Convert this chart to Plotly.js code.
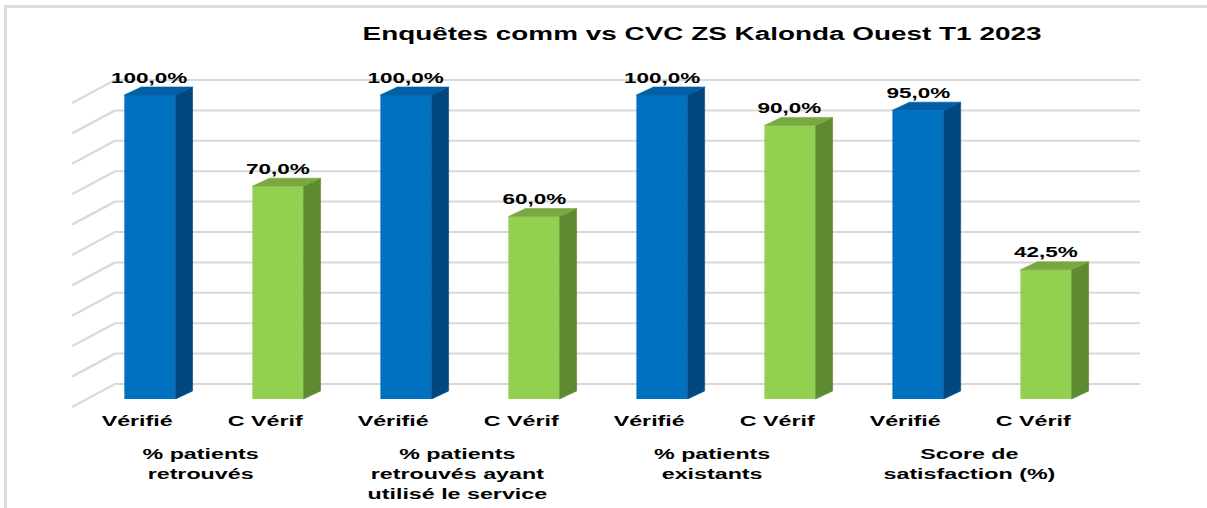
<!DOCTYPE html>
<html>
<head>
<meta charset="utf-8">
<script src="https://cdn.plot.ly/plotly-3.0.1.min.js"></script>
<style>
  html, body { margin: 0; padding: 0; background: #fff; }
  #frame { position: absolute; left: 0; top: 0; width: 1207px; height: 508px; overflow: hidden; background: #fff; }
  #chart { position: absolute; left: 0; top: 0; width: 805px; height: 508px; transform: scaleX(1.5); transform-origin: 0 0; }
  #border { position: absolute; left: 4px; top: 5px; right: -10px; bottom: -10px; border-left: 3px solid #dcdcdc; border-top: 3px solid #dcdcdc; pointer-events: none; }
</style>
</head>
<body>
<div id="frame">
  <div id="chart"></div>
  <div id="border"></div>
</div>
<script>
// ---- data ----
const chartTitle = "Enquêtes comm vs CVC ZS Kalonda Ouest T1 2023";
const groupLabels = ["% patients<br>retrouvés", "% patients<br>retrouvés ayant<br>utilisé le service", "% patients<br>existants", "Score de<br>satisfaction (%)"];
const seriesNames = ["Vérifié", "C Vérif"];
const verifie = [100, 100, 100, 95];
const cVerif = [70, 60, 90, 42.5];
const gridValues = [0, 10, 20, 30, 40, 50, 60, 70, 80, 90, 100];

// ---- style / geometry ----
const SCALE_X = 1.5;              // horizontal stretch of the picture
const W = 805, H = 508;
const M = { l: 48, r: 45, t: 60, b: 98 };
const xRange = [-0.609, 7.734];
const yRange = [-3.618, 111.513];
const plotW = W - M.l - M.r, plotH = H - M.t - M.b;
const pxPerX = plotW * SCALE_X / (xRange[1] - xRange[0]);   // screen px per x unit
const pxPerY = plotH / (yRange[1] - yRange[0]);             // screen px per y unit
const BAR_W = 0.40;
const dX = 17 / pxPerX;   // 3D depth, to the right
const dY = 8 / pxPerY;    // 3D depth, upwards
const wallUp = 15 / pxPerY;      // back wall gridline offset
const wallSlant = 23 / pxPerY;   // side-wall drop toward the front
const wallLeftX = xRange[0] + 43 / pxPerX;

const colors = {
  v:  { front: "#0070C0", side: "#00487F", top: "#005FA6" },
  c:  { front: "#92D050", side: "#5E8B31", top: "#78A83F" }
};

const posV = verifie.map((_, g) => 2 * g);
const posC = cVerif.map((_, g) => 2 * g + 1);

function faces(pos, vals) {
  const side = { x: [], y: [] }, top = { x: [], y: [] };
  pos.forEach((p, i) => {
    const v = vals[i], r = p + BAR_W / 2, l = p - BAR_W / 2;
    side.x.push(r, r + dX, r + dX, r, r, null);
    side.y.push(0, dY, v + dY, v, 0, null);
    top.x.push(l, r, r + dX, l + dX, l, null);
    top.y.push(v, v, v + dY, v + dY, v, null);
  });
  return { side, top };
}
const fV = faces(posV, verifie), fC = faces(posC, cVerif);

function faceTrace(f, color) {
  return { type: "scatter", mode: "lines", x: f.x, y: f.y, fill: "toself", fillcolor: color,
           line: { width: 0.5, color: color }, hoverinfo: "skip", showlegend: false };
}

const traces = [
  { type: "bar", name: seriesNames[0], x: posV, y: verifie, width: BAR_W,
    marker: { color: colors.v.front, line: { width: 0 } }, hoverinfo: "skip", showlegend: false },
  { type: "bar", name: seriesNames[1], x: posC, y: cVerif, width: BAR_W,
    marker: { color: colors.c.front, line: { width: 0 } }, hoverinfo: "skip", showlegend: false },
  faceTrace(fV.side, colors.v.side), faceTrace(fV.top, colors.v.top),
  faceTrace(fC.side, colors.c.side), faceTrace(fC.top, colors.c.top)
];

const shapes = gridValues.map(v => ({
  type: "path", layer: "below", xref: "x", yref: "y",
  path: `M ${xRange[0]},${v + wallUp - wallSlant} L ${wallLeftX},${v + wallUp} L ${xRange[1]},${v + wallUp}`,
  line: { color: "#d9d9d9", width: 2 }
}));

const fontFam = "Liberation Sans, Arial, sans-serif";
const fmt = v => v.toFixed(1).replace(".", ",") + "%";

const annotations = [];
posV.forEach((p, i) => annotations.push({ x: p, y: verifie[i], xref: "x", yref: "y", text: fmt(verifie[i]),
  showarrow: false, yshift: 18, font: { family: fontFam, size: 15, weight: 700, color: "#000" } }));
posC.forEach((p, i) => annotations.push({ x: p, y: cVerif[i], xref: "x", yref: "y", text: fmt(cVerif[i]),
  showarrow: false, yshift: 18, font: { family: fontFam, size: 15, weight: 700, color: "#000" } }));
groupLabels.forEach((t, g) => annotations.push({ x: 2 * g + 0.4, xref: "x", y: -33 / plotH, yref: "paper",
  yanchor: "top", text: t, showarrow: false, align: "center",
  font: { family: fontFam, size: 15.5, weight: 700, color: "#000" } }));

const tickVals = [], tickText = [];
posV.forEach((p, g) => { tickVals.push(p - 0.1, posC[g] - 0.1); tickText.push(seriesNames[0], seriesNames[1]); });

const layout = {
  width: W, height: H,
  margin: M,
  paper_bgcolor: "rgba(0,0,0,0)", plot_bgcolor: "rgba(0,0,0,0)",
  title: { text: chartTitle, x: 468 / W, xref: "container", xanchor: "center",
           y: 1 - 33 / H, yref: "container", yanchor: "middle",
           font: { family: fontFam, size: 18.6, weight: 700, color: "#000" } },
  xaxis: { range: xRange, fixedrange: true, showgrid: false, zeroline: false, showline: false,
           tickmode: "array", tickvals: tickVals, ticktext: tickText, ticks: "",
           tickfont: { family: fontFam, size: 15.5, weight: 700, color: "#000" } },
  yaxis: { range: yRange, fixedrange: true, showgrid: false, zeroline: false, showline: false,
           showticklabels: false, ticks: "" },
  barmode: "overlay",
  showlegend: false,
  shapes: shapes,
  annotations: annotations
};

Plotly.newPlot("chart", traces, layout, { displayModeBar: false, staticPlot: true });
</script>
</body>
</html>
